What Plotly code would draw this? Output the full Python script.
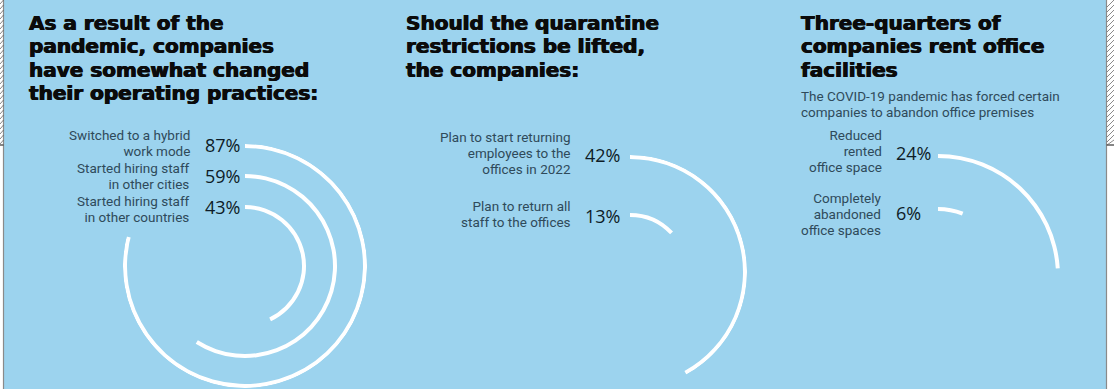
import plotly.graph_objects as go

# ---------------- data ----------------
p1_title = ["As a result of the", "pandemic, companies", "have somewhat changed", "their operating practices:"]
p1_labels = [["Switched to a hybrid", "work mode"],
             ["Started hiring staff", "in other cities"],
             ["Started hiring staff", "in other countries"]]
p1_values = [87, 59, 43]

p2_title = ["Should the quarantine", "restrictions be lifted,", "the companies:"]
p2_labels = [["Plan to start returning", "employees to the", "offices in 2022"],
             ["Plan to return all", "staff to the offices"]]
p2_values = [42, 13]

p3_title = ["Three-quarters of", "companies rent office", "facilities"]
p3_subtitle = ["The COVID-19 pandemic has forced certain", "companies to abandon office premises"]
p3_labels = [["Reduced", "rented", "office space"],
             ["Completely", "abandoned", "office spaces"]]
p3_values = [24, 6]

# ---------------- layout constants (pixels) ----------------
W, H = 1114, 389
BG = "#9cd3ee"
ARC = "#ffffff"
THICK = 4.0
INK = "#0b0b0b"
TITLE_PX, TITLE_LH = 20, 23.4
LABEL_PX, LABEL_LH = 13.5, 16.0
TITLE_FONT = dict(family="DejaVu Sans", size=TITLE_LH / 1.3, color=INK, weight="bold",
                  shadow=f"0.6px 0 0 {INK}, -0.5px 0 0 {INK}")
LABEL_FONT = dict(family="Roboto", size=LABEL_LH / 1.3, color="#2f4a5a", weight=400)
PCT_FONT = dict(family="Open Sans", size=18, color="#0e1c27")


def px(x):
    return x / W


def py(y):
    return 1 - y / H


def block(lines, size):
    return "<br>".join(f'<span style="font-size:{size}px">{t}</span>' for t in lines)


panels = [
    dict(name="polar", values=p1_values, labels=p1_labels, title=p1_title, title_x=27,
         cx=245, cy=266, size=122, full=True, sector=[166, 450],
         radii=[120, 90, 59], pct_y=[145, 176, 207], label_y=[143.5, 176, 208.5],
         label_right=192, pct_left=203),
    dict(name="polar2", values=p2_values, labels=p2_labels, title=p2_title, title_x=404,
         cx=630, cy=272, size=117, full=True, sector=[0, 360],
         radii=[115, 57], pct_y=[155, 216], label_y=[152.5, 214.5],
         label_right=573, pct_left=583),
    dict(name="polar3", values=p3_values, labels=p3_labels, title=p3_title, title_x=799,
         cx=938, cy=276, size=125, full=False, sector=[0, 90],
         radii=[120, 67], pct_y=[153, 213], label_y=[151, 213.5],
         label_right=884, pct_left=894),
]

fig = go.Figure()
annotations = []
layout_polars = {}

for p in panels:
    if p["full"]:
        x0, x1 = p["cx"] - p["size"], p["cx"] + p["size"]
        y0, y1 = p["cy"] - p["size"], p["cy"] + p["size"]
    else:
        x0, x1 = p["cx"], p["cx"] + p["size"]
        y0, y1 = p["cy"] - p["size"], p["cy"]
    layout_polars[p["name"]] = dict(
        domain=dict(x=[px(x0), px(x1)], y=[py(y1), py(y0)]),
        bgcolor="rgba(0,0,0,0)",
        sector=p["sector"],
        barmode="overlay",
        radialaxis=dict(visible=False, range=[0, p["size"]]),
        angularaxis=dict(visible=False, rotation=90, direction="clockwise"),
    )
    for v, rad in zip(p["values"], p["radii"]):
        fig.add_trace(go.Barpolar(
            r=[THICK], base=[rad - THICK / 2],
            theta=[v * 3.6 / 2], width=[v * 3.6],
            marker=dict(color=ARC, line=dict(width=0)),
            subplot=p["name"], hoverinfo="skip", showlegend=False,
        ))
    for v, lab, yy, ly in zip(p["values"], p["labels"], p["pct_y"], p["label_y"]):
        annotations.append(dict(x=px(p["pct_left"]), y=py(yy), xref="paper", yref="paper",
                                text=f"{v}%", showarrow=False, xanchor="left", yanchor="middle",
                                font=PCT_FONT))
        annotations.append(dict(x=px(p["label_right"]), y=py(ly), xref="paper", yref="paper",
                                text=block(lab, LABEL_PX), showarrow=False, align="right",
                                xanchor="right", yanchor="middle", font=LABEL_FONT))
    n = len(p["title"])
    tc = 23 + (n - 1) * TITLE_LH / 2
    annotations.append(dict(x=px(p["title_x"]), y=py(tc), xref="paper", yref="paper",
                            text=block(p["title"], TITLE_PX), showarrow=False, align="left",
                            xanchor="left", yanchor="middle", font=TITLE_FONT))

annotations.append(dict(x=px(799), y=py(104), xref="paper", yref="paper",
                        text=block(p3_subtitle, LABEL_PX), showarrow=False, align="left",
                        xanchor="left", yanchor="middle", font=LABEL_FONT))

# page frame decorations (screenshot border)
shapes = [
    dict(type="rect", xref="paper", yref="paper", x0=0, x1=px(3.5), y0=0, y1=1,
         fillcolor="#ffffff", line=dict(width=0), layer="above"),
    dict(type="rect", xref="paper", yref="paper", x0=px(1106.5), x1=1, y0=0, y1=1,
         fillcolor="#ffffff", line=dict(width=0), layer="above"),
    dict(type="line", xref="paper", yref="paper", x0=px(3.5), x1=px(3.5), y0=0, y1=1,
         line=dict(color="#8a8a8a", width=1.2), layer="above"),
    dict(type="line", xref="paper", yref="paper", x0=px(1106.5), x1=px(1106.5), y0=0, y1=1,
         line=dict(color="#8a8a8a", width=1.2), layer="above"),
    dict(type="line", xref="paper", yref="paper", x0=px(1106.5), x1=1, y0=py(145), y1=py(145),
         line=dict(color="#444444", width=1), layer="above"),
    dict(type="line", xref="paper", yref="paper", x0=0, x1=px(3.5), y0=py(145), y1=py(145),
         line=dict(color="#444444", width=1), layer="above"),
]
for k in range(0, 150, 5):
    shapes.append(dict(type="line", xref="paper", yref="paper",
                       x0=0, x1=px(3.5), y0=py(min(k + 4, 145)), y1=py(k),
                       line=dict(color="#555555", width=0.7), layer="above"))
    shapes.append(dict(type="line", xref="paper", yref="paper",
                       x0=px(1107), x1=1, y0=py(min(k + 7, 145)), y1=py(k),
                       line=dict(color="#555555", width=0.7), layer="above"))

fig.update_layout(
    width=W, height=H,
    margin=dict(l=0, r=0, t=0, b=0, autoexpand=False),
    paper_bgcolor=BG, plot_bgcolor=BG,
    showlegend=False,
    annotations=annotations,
    shapes=shapes,
    **layout_polars,
)

fig.write_html("out.html", config={"displayModeBar": False},
               post_script="document.body.style.margin='0';document.body.style.overflow='hidden';")
